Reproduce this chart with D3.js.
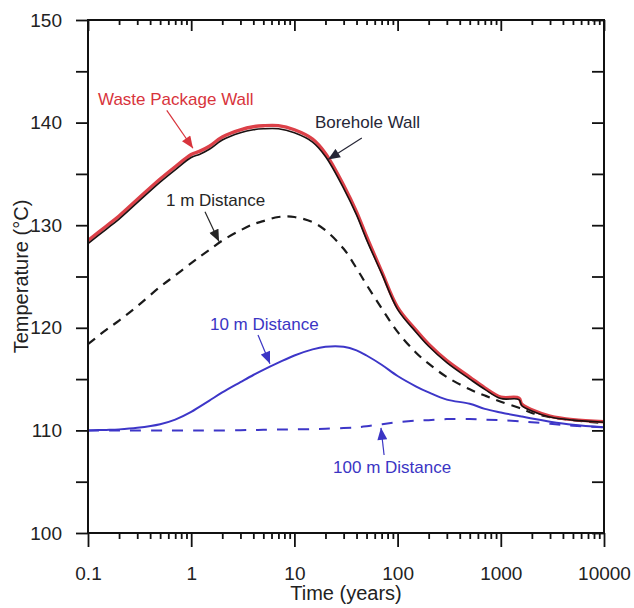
<!DOCTYPE html>
<html>
<head>
<meta charset="utf-8">
<script src="https://cdn.jsdelivr.net/npm/d3@7"></script>
<style>
    body { margin: 0; background: #fff; }
    svg { display: block; font-family: 'Liberation Sans', Arial, sans-serif; }
</style>
</head>
<body>
<svg id="chart"></svg>
<script>
// time axis shared by every curve (years)
const years = [0.1, 0.15, 0.2, 0.3, 0.5, 0.7, 1, 1.2, 1.5, 2, 3, 4, 5, 7, 10, 15, 20, 30, 40, 50, 70, 100, 150, 200, 300, 500, 700, 1000, 1500, 1600, 2000, 3000, 5000, 10000]

// temperatures (deg C)
const wastePackageWall = [128.5, 129.9, 130.9, 132.5, 134.5, 135.7, 136.9, 137.2, 137.7, 138.6, 139.3, 139.6, 139.7, 139.7, 139.3, 138.4, 137.0, 133.9, 131.3, 128.9, 125.5, 122.0, 119.8, 118.4, 116.8, 115.2, 114.15, 113.25, 113.15, 112.55, 112.0, 111.4, 111.05, 110.85]
const boreholeWall = [128.2, 129.6, 130.6, 132.2, 134.2, 135.4, 136.6, 136.9, 137.4, 138.3, 139.0, 139.3, 139.4, 139.4, 139.0, 138.1, 136.7, 133.6, 131.0, 128.6, 125.3, 121.8, 119.6, 118.2, 116.6, 115.0, 114.0, 113.1, 113.0, 112.4, 111.9, 111.3, 111.0, 110.8]
const dist1m = [118.4, 119.8, 120.7, 122.1, 124.0, 125.1, 126.3, 126.9, 127.6, 128.5, 129.5, 130.1, 130.4, 130.8, 130.8, 130.3, 129.5, 127.7, 125.8, 124.2, 121.9, 119.6, 117.6, 116.5, 115.2, 114.0, 113.4, 112.8, 112.2, 112.1, 111.7, 111.3, 111.0, 110.7]
const dist10m = [110.0, 110.05, 110.1, 110.25, 110.6, 111.05, 111.8, 112.3, 112.9, 113.7, 114.7, 115.4, 115.9, 116.6, 117.3, 117.9, 118.15, 118.15, 117.8, 117.3, 116.4, 115.3, 114.3, 113.7, 113.0, 112.6, 112.1, 111.75, 111.4, 111.35, 111.15, 110.85, 110.55, 110.3]
const dist100m = [110.0, 110.0, 110.0, 110.0, 110.0, 110.0, 110.0, 110.0, 110.0, 110.0, 110.02, 110.04, 110.06, 110.08, 110.1, 110.13, 110.17, 110.23, 110.3, 110.4, 110.6, 110.8, 110.95, 111.0, 111.1, 111.1, 111.05, 111.0, 110.9, 110.88, 110.8, 110.65, 110.45, 110.3]

const xTicks = [0.1, 1, 10, 100, 1000, 10000]
const yTicks = [100, 105, 110, 115, 120, 125, 130, 135, 140, 145, 150]

// labels: text start / arrow tail / arrow tip in (years, deg C)
const notes = [
    { text: 'Waste Package Wall', at: [0.125, 141.7], from: [0.58, 141.2], to: [1.04, 137.5], color: '#d8343c' },
    { text: 'Borehole Wall', at: [15.8, 139.5], from: [45, 138.5], to: [21.2, 136.4], color: '#262636' },
    { text: '1 m Distance', at: [0.57, 131.9], from: [1.36, 131.3], to: [1.86, 128.4], color: '#262626' },
    { text: '10 m Distance', at: [1.52, 119.8], from: [4.44, 119.3], to: [5.8, 116.5], color: '#3b35c4' },
    { text: '100 m Distance', at: [23.7, 105.85], from: [74, 107.6], to: [69, 110.25], color: '#3b35c4' },
]

const width = 634
const height = 608
const margin = { top: 20, right: 30, bottom: 75, left: 88 }

const svg = d3.select('#chart')
    .attr('width', width)
    .attr('height', height)

const x = d3.scaleLog()
    .domain([0.1, 10000])
    .range([margin.left, width - margin.right])

const y = d3.scaleLinear()
    .domain([100, 150])
    .range([height - margin.bottom, margin.top])

const minorX = []
for (let d = 0.1; d < 10000; d *= 10) {
    for (let k = 2; k <= 9; k++) minorX.push(+(d * k).toPrecision(2))
}

const blue = '#3d36c8'
const red = '#dc4048'

// curves
const line = (vals) => d3.line()
    .x((d, i) => x(years[i]))
    .y((d) => y(d))
    .curve(d3.curveCatmullRom.alpha(0.5))(vals)

svg.append('path').attr('d', line(dist100m))
    .attr('fill', 'none').attr('stroke', blue).attr('stroke-width', 2)
    .attr('stroke-dasharray', '11,10')
svg.append('path').attr('d', line(dist10m))
    .attr('fill', 'none').attr('stroke', blue).attr('stroke-width', 2)
svg.append('path').attr('d', line(dist1m))
    .attr('fill', 'none').attr('stroke', '#1a1a1a').attr('stroke-width', 2.2)
    .attr('stroke-dasharray', '9,7')
svg.append('path').attr('d', line(wastePackageWall))
    .attr('fill', 'none').attr('stroke', red).attr('stroke-width', 3.4)
svg.append('path').attr('d', line(boreholeWall))
    .attr('fill', 'none').attr('stroke', '#1a1010').attr('stroke-width', 1.6)

// axes
const axisStyle = (g) => {
    g.select('.domain').remove()
    g.selectAll('line').attr('stroke', '#111').attr('stroke-width', 1.8)
    g.selectAll('text').style('font-size', '19px').attr('fill', '#222')
}

const yB = height - margin.bottom
const xR = width - margin.right

svg.append('g')
    .attr('transform', 'translate(0,' + yB + ')')
    .call(d3.axisBottom(x).tickValues(xTicks).tickSize(14).tickPadding(20).tickFormat((d) => String(d)))
    .call(axisStyle)
svg.append('g')
    .attr('transform', 'translate(0,' + yB + ')')
    .call(d3.axisBottom(x).tickValues(minorX).tickSize(6).tickFormat(''))
    .call(axisStyle)
svg.append('g')
    .attr('transform', 'translate(0,' + margin.top + ')')
    .call(d3.axisTop(x).tickValues(xTicks).tickSize(-11).tickFormat(''))
    .call(axisStyle)
svg.append('g')
    .attr('transform', 'translate(0,' + margin.top + ')')
    .call(d3.axisTop(x).tickValues(minorX).tickSize(-5).tickFormat(''))
    .call(axisStyle)
svg.append('g')
    .attr('transform', 'translate(' + margin.left + ',0)')
    .call(d3.axisLeft(y).tickValues(yTicks).tickSize(12).tickPadding(14)
        .tickFormat((d) => (d % 10 === 0 ? d : '')))
    .call(axisStyle)
svg.append('g')
    .attr('transform', 'translate(' + xR + ',0)')
    .call(d3.axisRight(y).tickValues(yTicks).tickSize(-12).tickFormat(''))
    .call(axisStyle)

// frame
svg.append('rect')
    .attr('x', margin.left)
    .attr('y', margin.top)
    .attr('width', xR - margin.left)
    .attr('height', yB - margin.top)
    .attr('fill', 'none')
    .attr('stroke', '#111')
    .attr('stroke-width', 2)

// axis titles
svg.append('text')
    .attr('x', (margin.left + xR) / 2)
    .attr('y', 600)
    .attr('text-anchor', 'middle')
    .style('font-size', '20px')
    .attr('fill', '#222')
    .text('Time (years)')

svg.append('text')
    .attr('transform', 'translate(28,' + (margin.top + yB) / 2 + ') rotate(-90)')
    .attr('text-anchor', 'middle')
    .style('font-size', '20px')
    .attr('fill', '#222')
    .text('Temperature (°C)')

// annotation arrows
const defs = svg.append('defs')
notes.forEach((n, i) => {
    defs.append('marker')
        .attr('id', 'arrow' + i)
        .attr('markerUnits', 'userSpaceOnUse')
        .attr('viewBox', '0 0 12 10')
        .attr('refX', 12)
        .attr('refY', 5)
        .attr('markerWidth', 13)
        .attr('markerHeight', 10)
        .attr('orient', 'auto')
        .append('path')
        .attr('d', 'M0,0 L12,5 L0,10 Z')
        .attr('fill', n.color)
})

svg.selectAll('.note-line')
    .data(notes)
    .enter()
    .append('line')
    .attr('x1', (d) => x(d.from[0]))
    .attr('y1', (d) => y(d.from[1]))
    .attr('x2', (d) => x(d.to[0]))
    .attr('y2', (d) => y(d.to[1]))
    .attr('stroke', (d) => d.color)
    .attr('stroke-width', 1.2)
    .attr('marker-end', (d, i) => 'url(#arrow' + i + ')')

svg.selectAll('.note-text')
    .data(notes)
    .enter()
    .append('text')
    .attr('x', (d) => x(d.at[0]))
    .attr('y', (d) => y(d.at[1]))
    .style('font-size', '17px')
    .attr('fill', (d) => d.color)
    .text((d) => d.text)
</script>
</body>
</html>
